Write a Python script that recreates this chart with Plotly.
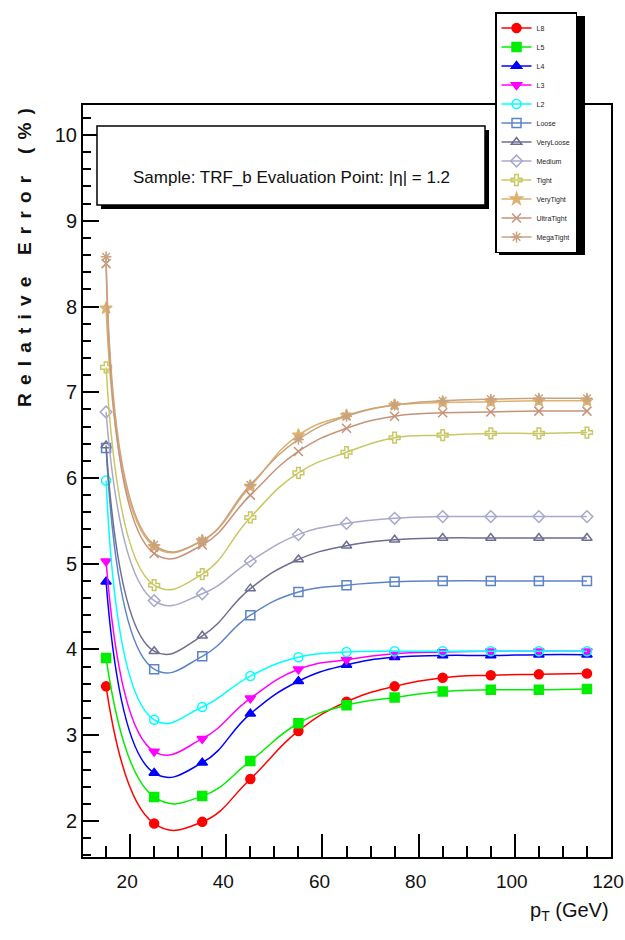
import plotly.graph_objects as go

# ---------------- data ----------------
pt = [15, 25, 35, 45, 55, 65, 75, 85, 95, 105, 115]

names = ["L8", "L5", "L4", "L3", "L2", "Loose", "VeryLoose", "Medium",
         "Tight", "VeryTight", "UltraTight", "MegaTight"]

L8 = [3.57, 1.97, 1.99, 2.49, 3.05, 3.39, 3.57, 3.67, 3.70, 3.71, 3.72]
L5 = [3.90, 2.28, 2.29, 2.70, 3.14, 3.35, 3.44, 3.51, 3.53, 3.53, 3.54]
L4 = [4.79, 2.56, 2.68, 3.25, 3.63, 3.82, 3.91, 3.93, 3.93, 3.94, 3.94]
L3 = [5.03, 2.81, 2.96, 3.43, 3.77, 3.88, 3.95, 3.97, 3.98, 3.98, 3.98]
L2 = [5.97, 3.18, 3.33, 3.69, 3.91, 3.97, 3.98, 3.98, 3.98, 3.98, 3.98]
Loose = [6.35, 3.77, 3.92, 4.40, 4.67, 4.75, 4.79, 4.80, 4.80, 4.80, 4.80]
VeryLoose = [6.38, 3.98, 4.16, 4.71, 5.05, 5.21, 5.28, 5.30, 5.30, 5.30, 5.30]
Medium = [6.77, 4.57, 4.65, 5.03, 5.34, 5.47, 5.53, 5.55, 5.55, 5.55, 5.55]
Tight = [7.29, 4.75, 4.88, 5.54, 6.06, 6.30, 6.47, 6.50, 6.52, 6.52, 6.53]
VeryTight = [7.98, 5.20, 5.27, 5.90, 6.50, 6.73, 6.85, 6.88, 6.89, 6.90, 6.90]
UltraTight = [8.50, 5.12, 5.22, 5.80, 6.31, 6.58, 6.72, 6.76, 6.77, 6.78, 6.78]
MegaTight = [8.58, 5.22, 5.27, 5.92, 6.45, 6.72, 6.85, 6.90, 6.92, 6.93, 6.93]

series = [L8, L5, L4, L3, L2, Loose, VeryLoose, Medium, Tight,
          VeryTight, UltraTight, MegaTight]

colors = ["#FF0000", "#00EE00", "#0000FF", "#FF00FF", "#00FFFF",
          "#5B84C8", "#6E6E92", "#A8A8CC", "#C8C864",
          "#DDB16E", "#C8927A", "#C9A27F"]

symbols = ["circle", "square", "triangle-up", "triangle-down", "circle-open",
           "square-open", "triangle-up-open", "diamond-open", "cross-open",
           "star", "x-thin-open", "asterisk-open"]

x_ticks = [20, 40, 60, 80, 100, 120]
y_ticks = [2, 3, 4, 5, 6, 7, 8, 9, 10]

# ---------------- figure ----------------
fig = go.Figure()
for name, ys, col, sym in zip(names, series, colors, symbols):
    fig.add_trace(go.Scatter(
        x=pt, y=ys, name=name, mode="lines+markers",
        line=dict(color=col, width=1.5, shape="spline", smoothing=1.3),
        marker=dict(symbol=sym, size=9, color=col,
                    line=dict(color=col, width=1.5)),
    ))

# the page body margin is removed (post_script), so the figure fills the window
W, H = 625, 940
# plot-area edges in window pixels
PX0, PX1, PY0, PY1 = 83, 611, 105, 857
L, R, T, B = PX0, W - PX1, PY0, H - PY1
pw, ph = PX1 - PX0, PY1 - PY0


def px(xp):
    return (xp - PX0) / pw


def py(yp):
    return (PY1 - yp) / ph


font_main = "Liberation Sans, Arial"

shapes = [
    # text box shadow + box
    dict(type="rect", xref="paper", yref="paper",
         x0=px(101), x1=px(489), y0=py(209), y1=py(130),
         fillcolor="black", line=dict(width=0), layer="above"),
    dict(type="rect", xref="paper", yref="paper",
         x0=px(97), x1=px(485), y0=py(205), y1=py(126),
         fillcolor="white", line=dict(color="black", width=1.5), layer="above"),
    # legend shadow
    dict(type="rect", xref="paper", yref="paper",
         x0=px(499), x1=px(585), y0=py(255), y1=py(16),
         fillcolor="black", line=dict(width=0), layer="above"),
]

annotations = [
    dict(text="Sample: TRF_b Evaluation Point: |η| = 1.2",
         xref="paper", yref="paper", x=px(291), y=py(166),
         showarrow=False, font=dict(family=font_main, size=17, color="#111")),
    dict(text="<b><span style='letter-spacing:8.2px'>Relative Error (%)</span></b>",
         xref="paper", yref="paper", x=px(12), y=py(98),
         textangle=-90, showarrow=False,
         font=dict(family=font_main, size=19, color="#111")),
    dict(text="p<sub>T</sub> (GeV)",
         xref="paper", yref="paper", x=px(611), y=py(911),
         xanchor="right", yanchor="middle", showarrow=False,
         font=dict(family=font_main, size=20, color="#111")),
]

fig.update_layout(
    width=W, height=H,
    margin=dict(l=L, r=R, t=T, b=B, autoexpand=False),
    paper_bgcolor="white", plot_bgcolor="white",
    showlegend=True,
    legend=dict(x=px(495), y=py(12), xanchor="left", yanchor="top",
                bgcolor="white", bordercolor="black", borderwidth=1.5,
                font=dict(family=font_main, size=7, color="#222"),
                itemwidth=30, tracegroupgap=0),
    shapes=shapes, annotations=annotations,
    xaxis=dict(range=[10.2, 120], tickvals=x_ticks, ticktext=[str(v) for v in x_ticks],
               ticks="inside", ticklen=23, tickwidth=1.5, tickcolor="black",
               showline=True, linecolor="black", linewidth=2, mirror=True,
               showgrid=False, zeroline=False, ticklabelstandoff=6,
               ticklabelshift=-3,
               ticklabeloverflow="allow", automargin=False,
               minor=dict(dtick=5, tick0=0, ticks="inside", ticklen=11,
                          tickwidth=1.5, tickcolor="black", showgrid=False),
               tickfont=dict(family=font_main, size=19, color="#111")),
    yaxis=dict(range=[1.58, 10.35], tickvals=y_ticks, ticktext=[str(v) for v in y_ticks],
               ticks="inside", ticklen=16, tickwidth=1.5, tickcolor="black",
               showline=True, linecolor="black", linewidth=2, mirror=True,
               showgrid=False, zeroline=False, automargin=False,
               minor=dict(dtick=0.2, tick0=0, ticks="inside", ticklen=8,
                          tickwidth=1.5, tickcolor="black", showgrid=False),
               tickfont=dict(family=font_main, size=20, color="#111")),
)

fig.write_html(
    "out.html",
    config={"displayModeBar": False},
    post_script="document.body.style.margin='0';document.body.style.overflow='hidden';",
)
